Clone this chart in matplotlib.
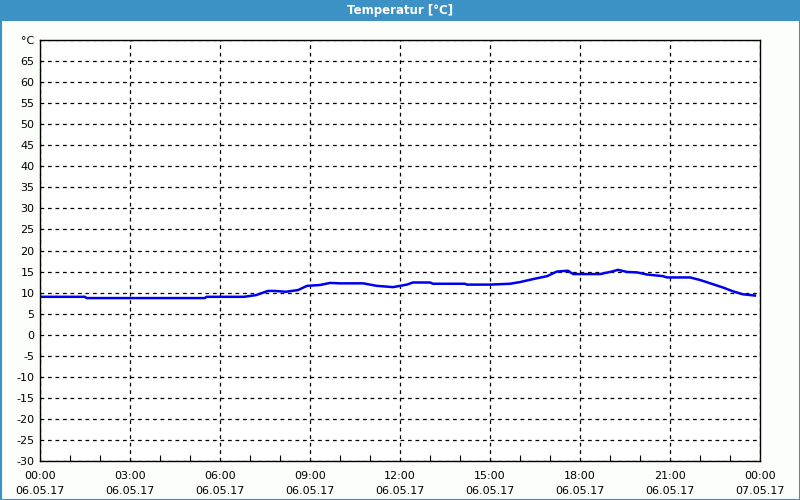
import numpy as np
import matplotlib.pyplot as plt
from matplotlib.patches import Rectangle

# =========================
# Data (hours since 06.05.17 00:00, °C)
# =========================
hours = [0.0, 1.5, 1.55, 5.5, 5.55, 6.8, 7.2, 7.6, 7.8, 8.2, 8.6, 8.9,
         9.33, 9.67, 10.0, 10.77, 11.23, 11.77, 12.23, 12.43, 13.0, 13.1,
         14.17, 14.23, 15.0, 15.67, 16.0, 16.43, 16.9, 17.23, 17.6, 17.77,
         18.67, 19.0, 19.27, 19.57, 19.9, 20.23, 20.77, 20.9, 21.67, 22.0,
         22.43, 22.77, 23.1, 23.43, 23.83]
temps = [9.0, 9.0, 8.7, 8.7, 9.0, 9.0, 9.4, 10.4, 10.4, 10.2, 10.6, 11.6,
         11.8, 12.3, 12.2, 12.2, 11.6, 11.3, 11.9, 12.4, 12.4, 12.1,
         12.1, 11.9, 11.9, 12.1, 12.5, 13.2, 13.9, 15.0, 15.2, 14.4,
         14.4, 14.9, 15.4, 14.9, 14.8, 14.3, 13.9, 13.6, 13.6, 13.0,
         12.0, 11.2, 10.3, 9.6, 9.3]

x_ticks = [0, 3, 6, 9, 12, 15, 18, 21, 24]
x_labels = ["00:00\n06.05.17", "03:00\n06.05.17", "06:00\n06.05.17",
            "09:00\n06.05.17", "12:00\n06.05.17", "15:00\n06.05.17",
            "18:00\n06.05.17", "21:00\n06.05.17", "00:00\n07.05.17"]
y_ticks = list(range(-30, 70, 5))
y_labels = [str(v) for v in y_ticks]

title = "Temperatur [°C]"
unit = "°C"

# =========================
# Figure
# =========================
blue_bar = "#3c92c5"
fig = plt.figure(figsize=(8, 5), dpi=100)
fig.patch.set_facecolor("#fcfefc")

# title bar and window border
fig.add_artist(Rectangle((0, 1 - 21 / 500), 1, 21 / 500, transform=fig.transFigure,
                         facecolor=blue_bar, edgecolor="none"))
fig.add_artist(Rectangle((0.5 / 800, 0.5 / 500), 1 - 1 / 800, 1 - 1 / 500,
                         transform=fig.transFigure, facecolor="none",
                         edgecolor=blue_bar, linewidth=1.5))
fig.text(0.5, 1 - 10.5 / 500, title, color="white", fontsize=8.5,
         fontweight="bold", ha="center", va="center")

ax = fig.add_axes([40 / 800, 39 / 500, 720 / 800, 421 / 500])
ax.set_facecolor("white")
ax.plot(hours, temps, color="#0000f0", linewidth=1.8)

ax.set_xlim(0, 24)
ax.set_ylim(-30, 70)

ax.set_xticks(x_ticks)
ax.set_xticklabels(x_labels, fontsize=8, linespacing=1.6)
ax.set_xticks(np.arange(0, 25, 1), minor=True)
ax.set_yticks(y_ticks + [70])
ax.set_yticklabels(y_labels + [unit], fontsize=8)

ax.tick_params(axis="x", which="major", length=0, pad=7)
ax.tick_params(axis="x", which="minor", direction="in", length=4, width=0.8)
ax.tick_params(axis="y", length=0, pad=4)

ax.grid(True, color="black", linestyle=(0, (3, 3)), linewidth=0.9)

for s in ax.spines.values():
    s.set_linewidth(1.0)
    s.set_color("black")

plt.savefig("out.png", dpi=100, facecolor=fig.get_facecolor())
